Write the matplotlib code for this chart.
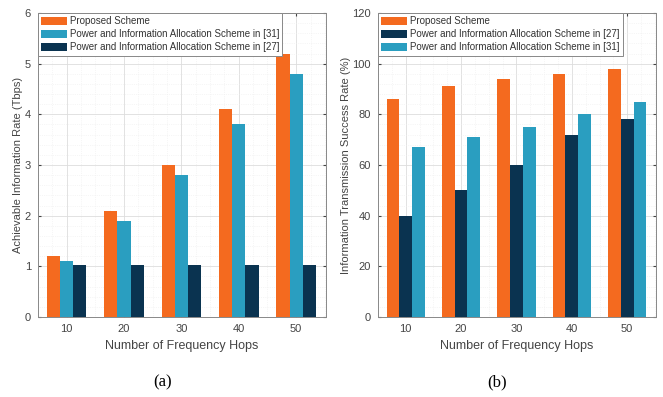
import numpy as np
import matplotlib
matplotlib.use('Agg')
from matplotlib import pyplot as plt
from matplotlib.ticker import MultipleLocator

plt.rcParams['font.family'] = ['Liberation Sans', 'DejaVu Sans']

hops = ['10', '20', '30', '40', '50']

# (a) achievable information rate, Tbps
rate_proposed = [1.2, 2.1, 3.0, 4.1, 5.2]
rate_ref31 = [1.1, 1.9, 2.8, 3.8, 4.8]
rate_ref27 = [1.03, 1.03, 1.03, 1.03, 1.03]

# (b) information transmission success rate, %
succ_proposed = [86, 91, 94, 96, 98]
succ_ref27 = [40, 50, 60, 72, 78]
succ_ref31 = [67, 71, 75, 80, 85]

c_orange = '#F46A1F'
c_teal = '#2A9EC0'
c_navy = '#0A3350'
gray = '#444444'

fig = plt.figure(figsize=(6.63, 3.97), dpi=100)
ax1 = fig.add_axes([38/663, 1 - 317/397, 288/663, 304/397])
ax2 = fig.add_axes([378/663, 1 - 317/397, 278/663, 304/397])

def style(ax, ymax, step, minor):
    ax.set_xlim(0.5, 5.52)
    ax.set_ylim(0, ymax)
    ax.yaxis.set_major_locator(MultipleLocator(step))
    ax.yaxis.set_minor_locator(MultipleLocator(minor))
    ax.set_xticks(np.arange(1, 6))
    ax.set_xticklabels(hops)
    ax.xaxis.set_minor_locator(MultipleLocator(0.25))
    ax.grid(which='major', color='#dddddd', linewidth=0.6)
    ax.grid(which='minor', color='#eeeeee', linewidth=0.5, linestyle=':')
    ax.set_axisbelow(True)
    ax.tick_params(axis='both', which='both', direction='in', labelsize=8,
                   colors=gray, top=True, right=True, length=2, pad=5)
    ax.tick_params(which='minor', length=0)
    for s in ax.spines.values():
        s.set_color('#888888')
        s.set_linewidth(0.7)
    ax.set_xlabel('Number of Frequency Hops', fontsize=9, color=gray, labelpad=4)

x = np.arange(1, 6)
w = 0.23

ax1.bar(x - w, rate_proposed, w, color=c_orange, label='Proposed Scheme')
ax1.bar(x, rate_ref31, w, color=c_teal, label='Power and Information Allocation Scheme in [31]')
ax1.bar(x + w, rate_ref27, w, color=c_navy, label='Power and Information Allocation Scheme in [27]')
style(ax1, 6, 1, 0.2)
ax1.set_ylabel('Achievable Information Rate (Tbps)', fontsize=8, color=gray, labelpad=1)

ax2.bar(x - w, succ_proposed, w, color=c_orange, label='Proposed Scheme')
ax2.bar(x, succ_ref27, w, color=c_navy, label='Power and Information Allocation Scheme in [27]')
ax2.bar(x + w, succ_ref31, w, color=c_teal, label='Power and Information Allocation Scheme in [31]')
style(ax2, 120, 20, 4)
ax2.set_ylabel('Information Transmission Success Rate (%)', fontsize=8, color=gray, labelpad=1)

for ax in (ax1, ax2):
    leg = ax.legend(loc='upper left', fontsize=7, frameon=True, fancybox=False,
                    framealpha=1, borderaxespad=0, handlelength=2.6, handleheight=0.9,
                    handletextpad=0.3, labelspacing=0.3, borderpad=0.35)
    leg.get_frame().set_edgecolor('#888888')
    leg.get_frame().set_linewidth(0.7)
    for t in leg.get_texts():
        t.set_color('#333333')

fig.text(163/663, 1 - 382/397, '(a)', family='Liberation Serif', fontsize=12,
         ha='center', va='center')
fig.text(497/663, 1 - 382/397, '(b)', family='Liberation Serif', fontsize=12,
         ha='center', va='center')

fig.savefig('out.png', dpi=100)
